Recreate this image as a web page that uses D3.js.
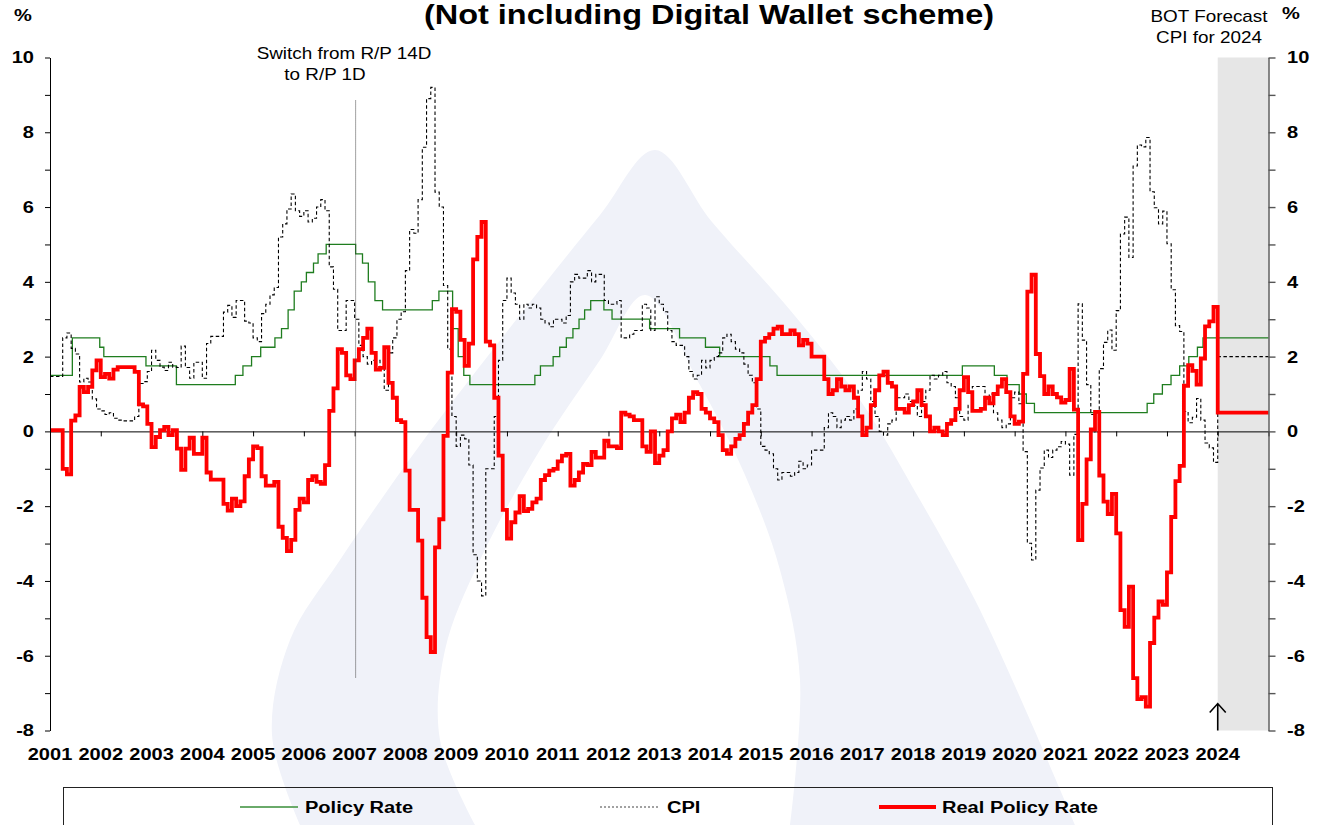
<!DOCTYPE html>
<html>
<head>
<meta charset="utf-8">
<script src="https://cdn.jsdelivr.net/npm/d3@7"></script>
<style>
  body { margin: 0; background: #fff; }
  svg { display: block; font-family: Arial, "Liberation Sans", sans-serif; }
</style>
</head>
<body>
<div id="chart"></div>
<script>
// policy rate: decimal year of each change and the new level (%)
var policyDates = [2001.0, 2001.44, 2001.98, 2002.06, 2002.89, 2003.49, 2004.65, 2004.80, 2004.97, 2005.15,
  2005.43, 2005.56, 2005.69, 2005.81, 2005.95, 2006.05, 2006.19, 2006.28, 2006.44, 2007.02,
  2007.155, 2007.27, 2007.40, 2007.55, 2008.53, 2008.66, 2008.93, 2009.04, 2009.15, 2009.27,
  2010.55, 2010.66, 2010.91, 2011.04, 2011.17, 2011.30, 2011.42, 2011.53, 2011.65, 2011.91,
  2012.07, 2012.81, 2013.40, 2013.91, 2014.19, 2015.18, 2015.32, 2018.97, 2019.60, 2019.85,
  2020.09, 2020.23, 2020.39, 2022.61, 2022.74, 2022.91, 2023.08, 2023.25, 2023.43, 2023.60,
  2023.71, 2025.0];
var policyRates = [1.5, 2.5, 2.25, 2.0, 1.75, 1.25, 1.5, 1.75, 2.0, 2.25,
  2.5, 2.75, 3.25, 3.75, 4.0, 4.25, 4.5, 4.75, 5.0, 4.75,
  4.5, 4.0, 3.5, 3.25, 3.5, 3.75, 2.75, 2.0, 1.5, 1.25,
  1.5, 1.75, 2.0, 2.25, 2.5, 2.75, 3.0, 3.25, 3.5, 3.25,
  3.0, 2.75, 2.5, 2.25, 2.0, 1.75, 1.5, 1.75, 1.5, 1.25,
  1.0, 0.75, 0.5, 0.75, 1.0, 1.25, 1.5, 1.75, 2.0, 2.25,
  2.5, 2.5];

// headline CPI y/y (%), monthly Jan 2001 - Dec 2023
var cpiMonthly = [
  1.47, 1.47, 1.47, 2.5, 2.63, 2.22, 2.07, 1.32, 1.42, 1.32, 0.87, 0.6,      // 2001
  0.55, 0.45, 0.5, 0.35, 0.3, 0.28, 0.28, 0.28, 0.4, 1.28, 1.33, 1.6,        // 2002
  2.17, 1.9, 1.72, 1.63, 1.85, 1.72, 1.71, 2.28, 1.71, 1.42, 1.85, 1.85,     // 2003
  1.42, 2.35, 2.54, 2.54, 2.54, 3.19, 3.37, 3.05, 3.5, 3.5, 2.95, 2.9,       // 2004
  2.5, 2.4, 3.15, 3.4, 3.65, 3.85, 5.2, 5.55, 5.95, 6.35, 5.9, 5.75,         // 2005
  5.9, 5.6, 5.7, 6.0, 6.2, 5.9, 4.4, 3.8, 2.7, 2.7, 3.5, 3.5,                // 2006
  3.0, 2.3, 2.0, 1.8, 1.9, 1.9, 1.7, 1.1, 2.1, 2.5, 3.0, 3.2,                // 2007
  4.3, 5.4, 5.3, 6.2, 7.6, 8.9, 9.2, 6.4, 6.0, 3.9, 2.2, 0.4,                // 2008
  -0.4, -0.1, -0.2, -0.9, -3.3, -4.0, -4.4, -1.0, -1.0, 0.4, 1.9, 3.5,       // 2009
  4.1, 3.7, 3.4, 3.0, 3.4, 3.3, 3.4, 3.3, 3.0, 2.9, 2.8, 3.0,                // 2010
  3.0, 2.9, 3.1, 4.0, 4.2, 4.1, 4.1, 4.3, 4.0, 4.2, 4.2, 3.5,                // 2011
  3.4, 3.4, 3.5, 2.5, 2.5, 2.6, 2.7, 2.7, 3.4, 3.3, 2.7, 3.6,                // 2012
  3.4, 3.2, 2.7, 2.4, 2.3, 2.3, 2.0, 1.6, 1.4, 1.5, 1.9, 1.7,                // 2013
  1.9, 2.0, 2.1, 2.5, 2.6, 2.4, 2.2, 2.1, 1.8, 1.5, 1.3, 0.6,                // 2014
  -0.4, -0.5, -0.6, -1.0, -1.3, -1.1, -1.1, -1.2, -1.1, -0.8, -1.0, -0.9,    // 2015
  -0.5, -0.5, -0.5, 0.1, 0.5, 0.4, 0.1, 0.3, 0.4, 0.3, 0.6, 1.1,             // 2016
  1.6, 1.4, 0.8, 0.4, 0.0, -0.1, 0.2, 0.3, 0.9, 0.9, 1.0, 0.8,               // 2017
  0.7, 0.4, 0.8, 1.1, 1.5, 1.4, 1.5, 1.6, 1.3, 1.2, 0.9, 0.4,                // 2018
  0.3, 0.7, 1.2, 1.2, 1.2, 0.9, 1.0, 0.5, 0.3, 0.1, 0.2, 0.9,                // 2019
  1.05, 0.74, -0.54, -2.99, -3.44, -1.57, -0.98, -0.5, -0.7, -0.5, -0.41, -0.27, // 2020
  -0.34, -1.17, -0.08, 3.41, 2.44, 1.25, 0.45, -0.02, 1.68, 2.38, 2.71, 2.17,    // 2021
  3.23, 5.28, 5.73, 4.65, 7.1, 7.66, 7.61, 7.86, 6.41, 5.98, 5.55, 5.89,     // 2022
  5.02, 3.79, 2.83, 2.67, 0.53, 0.23, 0.38, 0.88, 0.3, -0.31, -0.44, -0.83   // 2023
];

// real policy rate (%), monthly Jan 2001 - Dec 2023
var realMonthly = [
  0.03, 0.03, 0.03, -1.0, -1.15, 0.29, 0.43, 1.19, 1.05, 1.19, 1.63, 1.9,    // 2001
  1.45, 1.54, 1.41, 1.65, 1.72, 1.72, 1.72, 1.72, 1.59, 0.72, 0.67, 0.2,     // 2002
  -0.42, -0.15, 0.03, 0.12, -0.1, 0.03, -0.46, -1.03, -0.46, -0.17, -0.6, -0.6,  // 2003
  -0.17, -1.1, -1.29, -1.29, -1.29, -1.94, -2.12, -1.8, -2.0, -1.87, -1.2, -0.75, // 2004
  -0.4, -0.45, -1.2, -1.45, -1.45, -1.35, -2.55, -2.85, -3.2, -2.9, -2.1, -1.8,  // 2005
  -1.9, -1.3, -1.2, -1.35, -1.4, -0.9, 0.55, 1.15, 2.2, 2.1, 1.5, 1.4,       // 2006
  1.9, 2.2, 2.5, 2.75, 2.1, 1.65, 1.7, 2.25, 1.3, 0.9, 0.3, 0.25,            // 2007
  -1.05, -2.1, -2.1, -2.92, -4.45, -5.5, -5.9, -3.1, -2.35, -0.12, 1.57, 3.27,   // 2008
  3.2, 2.45, 1.75, 2.35, 4.6, 5.2, 5.6, 2.4, 2.3, 0.9, -0.65, -2.1,          // 2009
  -2.87, -2.43, -2.17, -1.73, -2.13, -2.07, -1.9, -1.8, -1.3, -1.17, -1.05, -1.0, // 2010
  -0.8, -0.65, -0.6, -1.45, -1.3, -1.1, -0.87, -0.9, -0.55, -0.7, -0.7, -0.25,   // 2011
  -0.4, -0.4, -0.45, 0.5, 0.45, 0.4, 0.3, 0.3, -0.4, -0.55, 0.0, -0.85,     // 2012
  -0.65, -0.5, 0.0, 0.35, 0.45, 0.25, 0.5, 0.9, 1.05, 1.0, 0.6, 0.5,        // 2013
  0.35, 0.25, -0.1, -0.5, -0.6, -0.4, -0.2, -0.1, 0.2, 0.5, 0.7, 1.4,       // 2014
  2.4, 2.5, 2.6, 2.75, 2.8, 2.6, 2.6, 2.7, 2.6, 2.3, 2.45, 2.35,            // 2015
  2.0, 2.0, 2.0, 1.4, 1.0, 1.1, 1.4, 1.2, 1.1, 1.2, 0.9, 0.4,               // 2016
  -0.1, 0.1, 0.7, 1.1, 1.5, 1.6, 1.3, 1.2, 0.6, 0.6, 0.5, 0.7,              // 2017
  0.8, 1.1, 0.7, 0.4, 0.0, 0.1, 0.0, -0.1, 0.2, 0.3, 0.6, 1.1,              // 2018
  1.45, 1.05, 0.55, 0.55, 0.6, 0.9, 0.75, 1.0, 1.2, 1.4, 1.05, 0.4,         // 2019
  0.2, 0.26, 1.54, 3.74, 4.19, 2.07, 1.48, 1.0, 1.2, 1.0, 0.91, 0.77,       // 2020
  0.84, 1.67, 0.58, -2.91, -1.94, -0.75, 0.05, 0.52, -1.18, -1.88, -2.21, -1.67, // 2021
  -2.73, -4.78, -5.23, -4.15, -6.6, -7.16, -7.11, -7.36, -5.66, -4.98, -4.55, -4.64, // 2022
  -3.77, -2.29, -1.33, -0.92, 1.22, 1.77, 1.62, 1.25, 1.95, 2.81, 2.94, 3.33     // 2023
];

// BOT forecast for 2024
var forecastStart = 2024;
var forecastEnd = 2025;
var cpiForecast = 2.0;
var realForecast = 0.5;

// R/P 14D -> R/P 1D switch marker
var switchDate = 2007.02;

var yearLabels = ["2001", "2002", "2003", "2004", "2005", "2006", "2007", "2008", "2009", "2010",
  "2011", "2012", "2013", "2014", "2015", "2016", "2017", "2018", "2019", "2020",
  "2021", "2022", "2023", "2024"];
var yTickValues = [-8, -7, -6, -5, -4, -3, -2, -1, 0, 1, 2, 3, 4, 5, 6, 7, 8, 9, 10];
var legendNames = ["Policy Rate", "CPI", "Real Policy Rate"];

var svgWidth = 1327;
var svgHeight = 825;
var stretch = 1.18;   // the original lettering is a bit wide

var svg = d3.select("#chart")
  .append("svg")
  .attr("width", svgWidth)
  .attr("height", svgHeight);

var x = d3.scaleLinear().domain([2001, 2025]).range([50, 1268.5]);
var y = d3.scaleLinear().domain([-8, 10]).range([730.5, 57.5]);

// helper for horizontally stretched text
function addText(g, px, py, str, size, weight, anchor) {
  return g.append("text")
    .attr("transform", `translate(${px},${py}) scale(${stretch},1)`)
    .attr("text-anchor", anchor || "middle")
    .attr("font-size", size + "px")
    .attr("font-weight", weight || "bold")
    .attr("fill", "#000")
    .text(str);
}

// faint background logo
var wm = svg.append("g");
var smooth = d3.line().curve(d3.curveCatmullRom.alpha(0.5));
var outerShape = [[300, 825], [272, 735], [290, 640], [340, 560], [420, 445], [520, 315], [600, 215], [655, 150],
  [712, 222], [790, 310], [860, 400], [920, 500], [975, 600], [1030, 720], [1075, 825]];
var innerShape = [[475, 825], [440, 740], [445, 650], [480, 560], [540, 450], [600, 360], [645, 295],
  [700, 385], [745, 475], [780, 570], [800, 680], [790, 825]];
wm.append("path").attr("d", smooth(outerShape) + "Z").attr("fill", "#f0f2f9");
wm.append("path").attr("d", smooth(innerShape) + "Z").attr("fill", "#ffffff");

// forecast shading
svg.append("rect")
  .attr("x", x(forecastStart))
  .attr("y", y(10))
  .attr("width", x(forecastEnd) - x(forecastStart))
  .attr("height", y(-8) - y(10))
  .attr("fill", "#e6e6e6");

// zero line with yearly ticks
var zeroAxis = svg.append("g")
  .attr("transform", `translate(0,${y(0)})`)
  .call(d3.axisBottom(x)
    .tickValues(d3.range(2001, 2026))
    .tickSize(5)
    .tickSizeOuter(0)
    .tickFormat(""));
zeroAxis.selectAll("path, line").attr("stroke", "#000").attr("stroke-width", 1);

// series
var monthTimes = cpiMonthly.map((d, i) => 2001 + i / 12);

var policyData = policyDates.map((d, i) => [d, policyRates[i]]);
var cpiData = monthTimes.map((t, i) => [t, cpiMonthly[i]])
  .concat([[forecastStart, cpiForecast], [forecastEnd, cpiForecast]]);
var realData = monthTimes.map((t, i) => [t, realMonthly[i]])
  .concat([[forecastStart, realForecast], [forecastEnd, realForecast]]);

var stepLine = d3.line()
  .x(d => x(d[0]))
  .y(d => y(d[1]))
  .curve(d3.curveStepAfter);

svg.append("path")
  .datum(policyData)
  .attr("d", stepLine)
  .attr("fill", "none")
  .attr("stroke", "#1f7d1f")
  .attr("stroke-width", 1.3);

svg.append("path")
  .datum(cpiData)
  .attr("d", stepLine)
  .attr("fill", "none")
  .attr("stroke", "#000")
  .attr("stroke-width", 1.1)
  .attr("stroke-dasharray", "3.5,2.5");

svg.append("path")
  .datum(realData)
  .attr("d", stepLine)
  .attr("fill", "none")
  .attr("stroke", "#ff0000")
  .attr("stroke-width", 3.8);

// left axis
var leftAxis = svg.append("g")
  .attr("transform", `translate(${x(2001)},0)`)
  .call(d3.axisLeft(y)
    .tickValues(yTickValues)
    .tickSize(5)
    .tickSizeOuter(0)
    .tickPadding(8.6)
    .tickFormat(d => d % 2 === 0 ? d : ""));
leftAxis.selectAll("path, line").attr("stroke", "#000");
leftAxis.selectAll("text")
  .attr("font-size", "17px")
  .attr("font-weight", "bold")
  .attr("font-family", "Arial, 'Liberation Sans', sans-serif")
  .attr("fill", "#000")
  .attr("transform", `scale(${stretch},1)`);

// right axis
var rightAxis = svg.append("g")
  .attr("transform", `translate(${x(2025)},0)`)
  .call(d3.axisRight(y)
    .tickValues(yTickValues)
    .tickSize(7)
    .tickSizeOuter(0)
    .tickPadding(8.7)
    .tickFormat(d => d % 2 === 0 ? d : ""));
rightAxis.selectAll("path, line").attr("stroke", "#555").attr("stroke-width", 1.4);
rightAxis.selectAll("text")
  .attr("font-size", "17px")
  .attr("font-weight", "bold")
  .attr("font-family", "Arial, 'Liberation Sans', sans-serif")
  .attr("fill", "#000")
  .attr("transform", `scale(${stretch},1)`);

// year labels
var labelG = svg.append("g");
yearLabels.forEach(function(lab) {
  addText(labelG, x(+lab), 760, lab, 17, "bold", "middle");
});

// switch marker
svg.append("line")
  .attr("x1", x(switchDate))
  .attr("x2", x(switchDate))
  .attr("y1", y(8.85))
  .attr("y2", y(-6.6))
  .attr("stroke", "#444")
  .attr("stroke-width", 1)
  .attr("stroke-dasharray", "1,1");

var notes = svg.append("g");
addText(notes, 344, 59, "Switch from R/P 14D", 16, "normal", "middle");
addText(notes, 325, 80, "to R/P 1D", 16, "normal", "middle");
addText(notes, 1209, 22, "BOT Forecast", 16, "normal", "middle");
addText(notes, 1209, 43, "CPI for 2024", 16, "normal", "middle");
addText(notes, 23, 21, "%", 17, "bold", "middle");
addText(notes, 1291, 19, "%", 17, "bold", "middle");
addText(notes, 709, 24, "(Not including Digital Wallet scheme)", 27.5, "bold", "middle");

// arrow pointing at the forecast year
var ax = x(forecastStart);
svg.append("path")
  .attr("d", `M${ax},${y(-8)} L${ax},${y(-7.28)} M${ax - 8},${y(-7.28) + 9} L${ax},${y(-7.28)} L${ax + 8},${y(-7.28) + 9}`)
  .attr("fill", "none")
  .attr("stroke", "#000")
  .attr("stroke-width", 1.6);

// legend
var legend = svg.append("g");
legend.append("rect")
  .attr("x", 63.5)
  .attr("y", 787.5)
  .attr("width", 1209)
  .attr("height", 60)
  .attr("fill", "none")
  .attr("stroke", "#222")
  .attr("stroke-width", 1);

var legendItems = [
  { name: legendNames[0], x1: 240, x2: 298, tx: 305, color: "#6aaa6a", width: 2.2, dash: null },
  { name: legendNames[1], x1: 600, x2: 660, tx: 667, color: "#444", width: 1.2, dash: "2,2" },
  { name: legendNames[2], x1: 879, x2: 936, tx: 942, color: "#ff0000", width: 4, dash: null }
];
legendItems.forEach(function(it) {
  legend.append("line")
    .attr("x1", it.x1).attr("x2", it.x2)
    .attr("y1", 807).attr("y2", 807)
    .attr("stroke", it.color)
    .attr("stroke-width", it.width)
    .attr("stroke-dasharray", it.dash);
  addText(legend, it.tx, 813, it.name, 17, "bold", "start");
});
</script>
</body>
</html>
